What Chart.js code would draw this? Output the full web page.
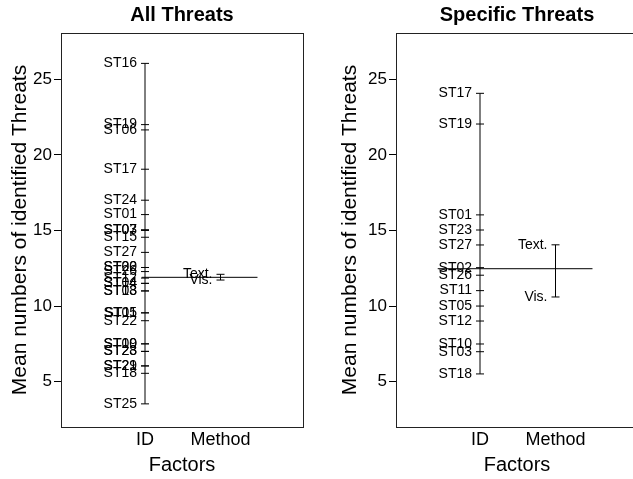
<!DOCTYPE html>
<html>
<head>
<meta charset="utf-8">
<script src="https://cdn.jsdelivr.net/npm/chart.js@4"></script>
<style>
  html, body { margin: 0; padding: 0; overflow: hidden; background: #fff; }
  .panel { position: absolute; top: 0; width: 316px; height: 479px; }
  #allBox { left: 0; }
  #specBox { left: 335px; }
</style>
</head>
<body>
<div class="panel" id="allBox"><canvas id="allChart" width="316" height="479"></canvas></div>
<div class="panel" id="specBox"><canvas id="specChart" width="316" height="479"></canvas></div>
<script>
// valores
const factorLabels = ["ID", "Method"];
const yTicks = [5, 10, 15, 20, 25];
const methodNames = ["Text.", "Vis."];

// panel izquierdo: todas las amenazas
const allIds = ["ST16", "ST19", "ST06", "ST17", "ST24", "ST01", "ST07", "ST03", "ST15", "ST27",
  "ST02", "ST20", "ST26", "ST12", "ST04", "ST14", "ST08", "ST13", "ST05", "ST11",
  "ST22", "ST09", "ST10", "ST28", "ST23", "ST29", "ST21", "ST18", "ST25"];
const allIdMeans = [26.05, 22.0, 21.65, 19.05, 17.0, 16.05, 15.05, 15.0, 14.55, 13.55,
  12.55, 12.55, 12.28, 11.85, 11.5, 11.5, 11.0, 11.0, 9.55, 9.55,
  9.03, 7.5, 7.5, 7.0, 7.0, 6.04, 6.04, 5.55, 3.53];
const allMethodMeans = [12.1, 11.72];
const allGrandMean = 11.9;

// panel derecho: amenazas específicas
const specIds = ["ST17", "ST19", "ST01", "ST23", "ST27", "ST02", "ST26", "ST11", "ST05", "ST12",
  "ST10", "ST03", "ST18"];
const specIdMeans = [24.07, 22.04, 16.03, 15.03, 14.04, 12.54, 12.04, 11.02, 10.0, 9.01,
  7.49, 6.98, 5.51];
const specMethodMeans = [14.05, 10.6];
const specGrandMean = 12.47;

const FONT = "'Liberation Sans', Arial, Helvetica, sans-serif";
Chart.defaults.font.family = FONT;
Chart.defaults.color = "#000";

// caja alrededor del área del gráfico + título centrado sobre la caja
const boxPlugin = {
  id: "boxPlugin",
  afterDraw(chart, args, opts) {
    const a = chart.chartArea;
    const ctx = chart.ctx;
    ctx.save();
    ctx.strokeStyle = "#222";
    ctx.lineWidth = 1;
    ctx.strokeRect(Math.round(a.left) + 0.5, Math.round(a.top) + 0.5,
      Math.round(a.right - a.left), Math.round(a.bottom - a.top));
    ctx.font = "bold 20px " + FONT;
    ctx.fillStyle = "#000";
    ctx.textAlign = "center";
    ctx.textBaseline = "middle";
    ctx.fillText(opts.text, (a.left + a.right) / 2, 15);
    ctx.restore();
  },
};

// etiquetas de niveles al lado de cada marca
const levelLabels = {
  id: "levelLabels",
  afterDatasetsDraw(chart, args, opts) {
    const xs = chart.scales.x;
    const ys = chart.scales.y;
    const ctx = chart.ctx;
    ctx.save();
    ctx.font = "14px " + FONT;
    ctx.fillStyle = "#000";
    ctx.textAlign = "right";
    ctx.textBaseline = "middle";
    opts.groups.forEach((g) => {
      const px = xs.getPixelForValue(g.x) - 8;
      g.names.forEach((n, i) => {
        ctx.fillText(n, px, ys.getPixelForValue(g.values[i]));
      });
    });
    ctx.restore();
  },
};

function makeChart(canvasId, title, ids, idMeans, methodMeans, grandMean, meanStart, yTitlePad) {
  const ctx = document.getElementById(canvasId).getContext("2d");
  const tickStyle = { pointStyle: "line", pointRadius: 4, borderColor: "#000", borderWidth: 1, showLine: false };
  const lineStyle = { pointRadius: 0, borderColor: "#000", borderWidth: 1, showLine: true };
  return new Chart(ctx, {
    type: "scatter",
    data: {
      datasets: [
        Object.assign({ data: idMeans.map((v) => ({ x: 1, y: v })) }, tickStyle),
        Object.assign({ data: [{ x: 1, y: Math.min(...idMeans) }, { x: 1, y: Math.max(...idMeans) }] }, lineStyle),
        Object.assign({ data: methodMeans.map((v) => ({ x: 2, y: v })) }, tickStyle),
        Object.assign({ data: [{ x: 2, y: Math.min(...methodMeans) }, { x: 2, y: Math.max(...methodMeans) }] }, lineStyle),
        Object.assign({ data: [{ x: meanStart, y: grandMean }, { x: 2.49, y: grandMean }] }, lineStyle),
      ],
    },
    options: {
      responsive: false,
      animation: false,
      layout: { padding: { left: 0, right: 13, top: 33, bottom: 0 } },
      plugins: {
        legend: { display: false },
        tooltip: { enabled: false },
        title: { display: false },
        boxPlugin: { text: title },
        levelLabels: {
          groups: [
            { x: 1, names: ids, values: idMeans },
            { x: 2, names: methodNames, values: methodMeans },
          ],
        },
      },
      scales: {
        x: {
          type: "linear",
          min: -0.1126,
          max: 3.0927,
          grid: { display: false, drawTicks: false },
          border: { display: false },
          afterBuildTicks: (s) => { s.ticks = [{ value: 1 }, { value: 2 }]; },
          afterFit: (s) => { s.height = 52; },
          ticks: {
            font: { size: 18 },
            color: "#000",
            padding: 2,
            maxRotation: 0,
            callback: (v) => factorLabels[v - 1],
          },
          title: { display: true, text: "Factors", font: { size: 20 }, color: "#000", padding: { top: 0, bottom: 2 } },
        },
        y: {
          type: "linear",
          min: 2.0,
          max: 28.06,
          grid: { drawOnChartArea: false, drawTicks: true, tickLength: 7, color: "#000" },
          border: { display: false },
          afterBuildTicks: (s) => { s.ticks = yTicks.map((v) => ({ value: v })); },
          afterFit: (s) => { s.width = 61; },
          ticks: { font: { size: 17 }, color: "#000", padding: 2 },
          title: {
            display: true,
            text: "Mean numbers of identified Threats",
            font: { size: 21 },
            color: "#000",
            padding: { top: yTitlePad, bottom: 0 },
          },
        },
      },
    },
    plugins: [boxPlugin, levelLabels],
  });
}

document.addEventListener("DOMContentLoaded", function () {
  makeChart("allChart", "All Threats", allIds, allIdMeans, allMethodMeans, allGrandMean, 0.956, 8);
  makeChart("specChart", "Specific Threats", specIds, specIdMeans, specMethodMeans, specGrandMean, 0.44, 3);
});
</script>
</body>
</html>
